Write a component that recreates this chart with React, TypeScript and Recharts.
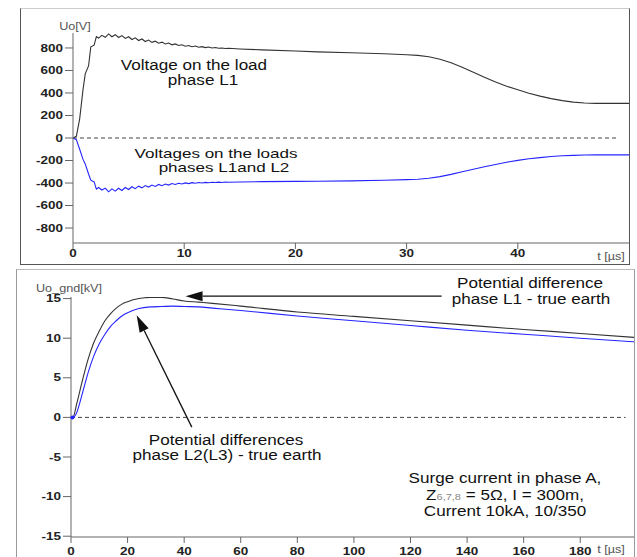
import React from "react";
import { LineChart, Line, XAxis, YAxis, ReferenceLine, ReferenceDot } from "recharts";

// ---------- Top panel data (t in µs, Uo in V) ----------
const topT = [0, 0.3, 0.6, 0.9, 1.1, 1.4, 1.6, 1.9, 2.1, 2.3, 2.6, 2.9, 3.2, 3.5, 3.8, 4.1, 4.4, 4.7, 5.0, 5.3, 5.6, 5.9, 6.2, 6.5, 6.8, 7.1, 7.4, 7.7, 8.0, 8.3, 8.6, 8.9, 9.2, 9.5, 9.8, 10.1, 10.4, 10.7, 11.0, 11.3, 11.6, 11.9, 12.2, 12.5, 12.8, 13.1, 13.4, 13.7, 14.0, 15, 17, 20, 22, 25, 28, 30, 31, 32, 33, 34, 35, 36, 37, 38, 39, 40, 41, 42, 43, 44, 45, 46, 47, 50];
const topL1 = [0, 15, 170, 430, 570, 640, 810, 825, 900, 888, 912, 895, 925, 900, 918, 893, 910, 885, 900, 875, 890, 866, 880, 857, 870, 850, 860, 842, 852, 835, 844, 828, 836, 822, 829, 816, 822, 811, 817, 807, 812, 803, 808, 800, 804, 797, 800, 795, 797, 791, 783, 773, 765, 757, 748, 740, 734, 722, 700, 668, 628, 585, 540, 497, 460, 428, 398, 372, 350, 332, 319, 311, 308, 308];
const topL12 = [0, -15, -100, -190, -230, -320, -375, -390, -455, -440, -462, -445, -478, -452, -472, -447, -466, -440, -458, -433, -450, -428, -443, -423, -436, -418, -430, -413, -424, -409, -418, -405, -413, -402, -409, -399, -405, -397, -402, -396, -400, -394, -398, -393, -396, -392, -395, -391, -393, -391, -388, -385, -384, -381, -376, -370, -366, -358, -343, -323, -300, -277, -255, -235, -215, -199, -185, -174, -165, -158, -154, -151, -150, -150];
const topXTicks = [0, 10, 20, 30, 40];
const topYTicks = [-800, -600, -400, -200, 0, 200, 400, 600, 800];

// ---------- Bottom panel data (t in µs, Uo_gnd in kV) ----------
const botT = [0, 0.8, 2, 4, 6, 8, 10, 12, 14, 16, 18, 20, 24, 28, 32, 36, 40, 45, 50, 60, 80, 100, 120, 140, 160, 180, 199];
const botL1 = [0, 0.1, 1.7, 4.6, 7.3, 9.4, 10.9, 12.2, 13.1, 13.8, 14.3, 14.6, 15.0, 15.15, 15.15, 14.95, 14.7, 14.55, 14.4, 14.05, 13.3, 12.75, 12.2, 11.65, 11.1, 10.6, 10.1];
const botL23 = [0, 0, 0.6, 3.0, 5.6, 7.7, 9.3, 10.5, 11.5, 12.2, 12.8, 13.2, 13.75, 13.95, 14.0, 14.05, 14.0, 13.95, 13.8, 13.5, 12.8, 12.2, 11.6, 11.0, 10.5, 10.0, 9.55];
const botXTicks = [0, 20, 40, 60, 80, 100, 120, 140, 160, 180];
const botYTicks = [-15, -10, -5, 0, 5, 10, 15];

const topData = topT.map((t, i) => ({ t, l1: topL1[i], l12: topL12[i] }));
const botData = botT.map((t, i) => ({ t, l1: botL1[i], l23: botL23[i] }));

const FONT = "'Liberation Sans', Arial, Helvetica, sans-serif";

const XTick = (props: any) => {
  const { x, y, payload } = props;
  return (
    <g transform={`translate(${x},${y})`}>
      <text transform="scale(1.35,1)" textAnchor="middle" dy="0.71em" fontSize={10} fontWeight="bold" fill="#222" fontFamily={FONT}>
        {payload.value}
      </text>
    </g>
  );
};

const YTick = (props: any) => {
  const { x, y, payload } = props;
  return (
    <g transform={`translate(${x},${y})`}>
      <text transform="scale(1.35,1)" textAnchor="end" dy="0.355em" fontSize={10} fontWeight="bold" fill="#222" fontFamily={FONT}>
        {payload.value}
      </text>
    </g>
  );
};

const Arrow = (props: any) => {
  const { x1, y1, x2, y2 } = props;
  const dx = x2 - x1;
  const dy = y2 - y1;
  const len = Math.sqrt(dx * dx + dy * dy) || 1;
  const ux = dx / len;
  const uy = dy / len;
  const L = 17;
  const W = 5;
  const bx = x2 - ux * L;
  const by = y2 - uy * L;
  const pts = `${x2},${y2} ${bx - uy * W},${by + ux * W} ${bx + uy * W},${by - ux * W}`;
  return (
    <g>
      <line x1={x1} y1={y1} x2={bx} y2={by} stroke="#111" strokeWidth={1.3} />
      <polygon points={pts} fill="#111" />
    </g>
  );
};

const Txt = ({ cx, cy, children, size = 14, stretch = 1.22, color = "#111" }: any) => (
  <div
    style={{
      position: "absolute",
      left: cx,
      top: cy - 6,
      height: 12,
      lineHeight: "12px",
      fontSize: size,
      color,
      fontFamily: FONT,
      whiteSpace: "nowrap",
      transform: `translateX(-50%) scaleX(${stretch})`,
    }}
  >
    {children}
  </div>
);

export default function App() {
  return (
    <div style={{ position: "absolute", left: 0, top: 0, width: 637, height: 557, overflow: "hidden", background: "#fff" }}>
      {/* panel frames */}
      <div style={{ position: "absolute", left: 20, top: 8, width: 608, height: 255, borderLeft: "1px solid #555", borderRight: "1px solid #555", borderBottom: "1px solid #555", borderTop: "1px solid #ccc" }} />
      <div style={{ position: "absolute", left: 16, top: 269, width: 617, height: 300, border: "1px solid #999", borderTopColor: "#bbb" }} />

      {/* top chart */}
      <div style={{ position: "absolute", left: 0, top: 0 }}>
        <LineChart width={637} height={264} data={topData} margin={{ top: 33, right: 8, bottom: 0, left: 23 }}>
          <XAxis dataKey="t" type="number" domain={[0, 50]} ticks={topXTicks} interval={0} allowDataOverflow height={21} stroke="#666" tickSize={6} tickMargin={1} tick={<XTick />} />
          <YAxis type="number" domain={[-933, 933]} ticks={topYTicks} interval={0} allowDataOverflow width={50} stroke="#666" tickSize={8} tickMargin={2} tick={<YTick />} />
          <ReferenceLine segment={[{ x: 0, y: 0 }, { x: 49.1, y: 0 }]} stroke="#444" strokeDasharray="4 3" ifOverflow="visible" />
          <Line dataKey="l1" type="linear" stroke="#333" strokeWidth={1.1} dot={false} isAnimationActive={false} />
          <Line dataKey="l12" type="linear" stroke="#2424ff" strokeWidth={1.1} dot={false} isAnimationActive={false} />
        </LineChart>
      </div>

      {/* bottom chart */}
      <div style={{ position: "absolute", left: 0, top: 264 }}>
        <LineChart width={637} height={336} data={botData} margin={{ top: 33, right: 3, bottom: 33, left: 21 }}>
          <XAxis dataKey="t" type="number" domain={[0, 199]} ticks={botXTicks} interval={0} allowDataOverflow height={30} stroke="#666" tickSize={6} tickMargin={5} tick={<XTick />} />
          <YAxis type="number" domain={[-15.1, 15.2]} ticks={botYTicks} interval={0} allowDataOverflow width={50} stroke="#666" tickSize={8} tickMargin={2} tick={<YTick />} />
          <ReferenceLine segment={[{ x: 0, y: 0 }, { x: 196, y: 0 }]} stroke="#444" strokeDasharray="4 3" ifOverflow="visible" />
          <Line dataKey="l1" type="monotone" stroke="#333" strokeWidth={1.1} dot={false} isAnimationActive={false} />
          <Line dataKey="l23" type="monotone" stroke="#2424ff" strokeWidth={1.1} dot={false} isAnimationActive={false} />
          <ReferenceDot x={0.5} y={0} r={2} fill="#2424ff" stroke="none" ifOverflow="visible" />
          <ReferenceLine segment={[{ x: 131, y: 15.3 }, { x: 40.5, y: 15.3 }]} ifOverflow="visible" shape={<Arrow />} />
          <ReferenceLine segment={[{ x: 42.7, y: -1.23 }, { x: 23.2, y: 12.9 }]} ifOverflow="visible" shape={<Arrow />} />
        </LineChart>
      </div>

      {/* axis captions */}
      <Txt cx={75} cy={26} size={11} stretch={1.15} color="#555">Uo[V]</Txt>
      <Txt cx={611} cy={256} size={11} stretch={1.15} color="#555">t [µs]</Txt>
      <Txt cx={69} cy={288} size={11} stretch={1.15} color="#555">Uo_gnd[kV]</Txt>
      <Txt cx={611} cy={549} size={11} stretch={1.15} color="#555">t [µs]</Txt>

      {/* top annotations */}
      <Txt cx={194} cy={65}>Voltage on the load</Txt>
      <Txt cx={203} cy={80}>phase L1</Txt>
      <Txt cx={216} cy={154} size={13} stretch={1.31}>Voltages on the loads</Txt>
      <Txt cx={224} cy={168} size={13} stretch={1.31}>phases L1and L2</Txt>

      {/* bottom annotations */}
      <Txt cx={530} cy={283}>Potential difference</Txt>
      <Txt cx={531} cy={299}>phase L1 - true earth</Txt>
      <Txt cx={226} cy={440}>Potential differences</Txt>
      <Txt cx={227} cy={455}>phase L2(L3) - true earth</Txt>
      <Txt cx={505} cy={478}>Surge current in phase A,</Txt>
      <Txt cx={505} cy={495}>
        Z<span style={{ fontSize: 9, color: "#888" }}>6,7,8</span> = 5Ω, I = 300m,
      </Txt>
      <Txt cx={505} cy={511}>Current 10kA, 10/350</Txt>
    </div>
  );
}
